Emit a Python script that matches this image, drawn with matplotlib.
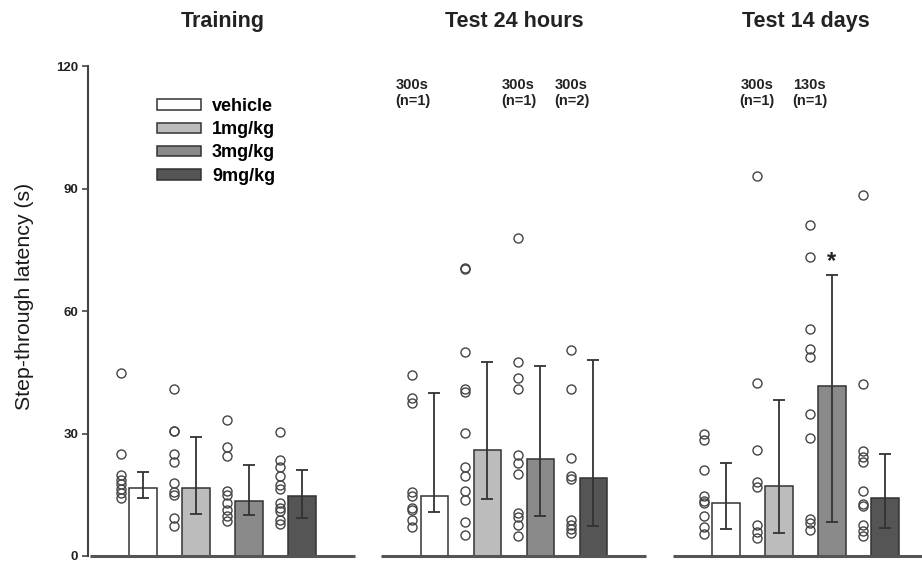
import matplotlib
matplotlib.use('Agg')
import matplotlib.pyplot as plt
import matplotlib.transforms as mtransforms
from matplotlib.patches import Patch

plt.rcParams['font.family'] = ['Liberation Sans', 'DejaVu Sans']

phases = ['Training', 'Test 24 hours', 'Test 14 days']
doses = ['vehicle', '1mg/kg', '3mg/kg', '9mg/kg']
bar_colors = ['#ffffff', '#bcbcbc', '#8a8a8a', '#555555']

# median latency per dose, with lower / upper quartile for the error bars
median_training = [16.7, 16.7, 13.5, 14.8]
low_training = [14.3, 10.4, 10.1, 9.2]
high_training = [20.6, 29.1, 22.2, 21.0]

median_24h = [14.7, 25.9, 23.7, 19.0]
low_24h = [10.7, 14.0, 9.7, 7.3]
high_24h = [39.9, 47.6, 46.6, 47.9]

median_14d = [13.1, 17.2, 41.7, 14.3]
low_14d = [6.7, 5.7, 8.3, 6.9]
high_14d = [22.8, 38.3, 68.7, 25.1]

# individual animals (values above 120 s are only noted as text)
pts_training = [
    [44.9, 24.9, 19.8, 18.7, 17.6, 16.5, 15.4, 14.3],
    [40.9, 30.7, 30.5, 25.1, 22.9, 17.8, 15.6, 15.0, 9.2, 7.3],
    [33.2, 26.7, 24.5, 15.8, 15.0, 13.0, 11.2, 9.7, 8.5],
    [30.3, 23.5, 21.8, 19.6, 17.4, 16.5, 13.1, 11.7, 10.9, 8.9, 7.9],
]
pts_24h = [
    [44.4, 38.6, 37.4, 15.6, 14.6, 11.7, 11.3, 8.9, 7.0],
    [70.5, 70.3, 49.9, 40.9, 40.1, 30.2, 21.9, 19.6, 15.8, 13.6, 8.4, 5.1],
    [77.9, 47.6, 43.5, 40.9, 24.7, 22.7, 20.2, 10.5, 9.6, 7.7, 5.0],
    [50.4, 40.9, 24.0, 19.6, 18.9, 8.7, 7.7, 6.5, 5.7],
]
pts_14d = [
    [30.0, 28.3, 21.0, 14.6, 13.5, 12.9, 9.7, 7.0, 5.3],
    [93.0, 42.4, 25.9, 18.2, 17.0, 7.7, 5.8, 4.5],
    [81.1, 73.3, 55.6, 50.8, 48.8, 34.8, 28.9, 9.1, 8.1, 6.3],
    [88.4, 42.1, 25.7, 24.3, 22.9, 15.8, 12.8, 12.3, 7.5, 6.1, 4.9],
]

# (phase index, dose index, text) for animals off the scale
off_scale = [
    (1, 0, '300s\n(n=1)'),
    (1, 2, '300s\n(n=1)'),
    (1, 3, '300s\n(n=2)'),
    (2, 1, '300s\n(n=1)'),
    (2, 2, '130s\n(n=1)'),
]

medians = [median_training, median_24h, median_14d]
lows = [low_training, low_24h, low_14d]
highs = [high_training, high_24h, high_14d]
points = [pts_training, pts_24h, pts_14d]

group_step = 5.5
bar_w = 0.515
dot_shift = -0.415
line_col = '#333333'

fig = plt.figure(figsize=(9.22, 5.63), dpi=100)
ax = fig.add_axes([88 / 922, 7 / 563, 834 / 922, 490 / 563])

for g in range(3):
    x0 = g * group_step
    for i in range(4):
        x = x0 + i
        m = medians[g][i]
        ax.bar(x, m, width=bar_w, color=bar_colors[i], edgecolor=line_col,
               linewidth=1.1, zorder=2)
        ax.errorbar(x, m, yerr=[[m - lows[g][i]], [highs[g][i] - m]],
                    fmt='none', ecolor=line_col, elinewidth=1.3,
                    capsize=4.5, capthick=1.3, zorder=3)
        vals = points[g][i]
        ax.plot([x + dot_shift] * len(vals), vals, 'o', ms=6.5, mfc='none',
                mec='#444444', mew=1.0, zorder=3)
    # each phase gets its own piece of x axis
    ax.plot([x0 - 1, x0 + 4], [0, 0], color='#555555', lw=2.2,
            clip_on=False, zorder=4, solid_capstyle='butt')

trans = mtransforms.blended_transform_factory(ax.transData, ax.transAxes)
for g, name in enumerate(phases):
    ax.text(g * group_step + 1.5, 1.09, name, transform=trans, ha='center',
            va='center', fontsize=15.5, fontweight='bold', color='#222222')

for g, i, txt in off_scale:
    ax.text(g * group_step + i + dot_shift, 113.4, txt, ha='center',
            va='center', fontsize=10.5, fontweight='bold', linespacing=1.25,
            color='#222222')

# significance mark over 3mg/kg at 14 days
ax.text(2 * group_step + 2, high_14d[2] + 0.5, '*', ha='center',
        va='bottom', fontsize=17, fontweight='bold', color='#222222')

handles = [Patch(facecolor=c, edgecolor=line_col, linewidth=1.1)
           for c in bar_colors]
ax.legend(handles, doses, loc='upper left', bbox_to_anchor=(0.0827, 0.935),
          frameon=False, prop={'weight': 'bold', 'size': 13},
          handlelength=2.45, handleheight=0.5, handletextpad=0.6,
          labelspacing=0.35, borderpad=0, borderaxespad=0)

ax.set_xlim(-1.038, 14.70)
ax.set_ylim(0, 120)
ax.set_yticks([0, 30, 60, 90, 120])
ax.tick_params(axis='y', direction='out', length=4, width=1.2,
               color='#444444', labelsize=9.5, pad=3)
for lab in ax.get_yticklabels():
    lab.set_fontweight('bold')
    lab.set_color('#222222')
ax.set_xticks([])
for side in ['top', 'right', 'bottom']:
    ax.spines[side].set_visible(False)
ax.spines['left'].set_color('#444444')
ax.spines['left'].set_linewidth(1.5)

fig.text(25 / 922, 1 - 296.5 / 563, 'Step-through latency (s)', rotation=90,
         ha='center', va='center', fontsize=15.3, color='#1a1a1a')

fig.savefig('out.png', dpi=100)
